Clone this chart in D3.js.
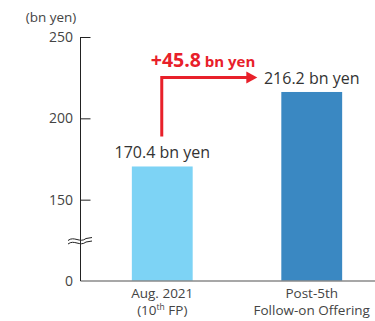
<!DOCTYPE html>
<html><head><meta charset="utf-8">
<script src="https://cdn.jsdelivr.net/npm/d3@7"></script>
<style>html,body{margin:0;padding:0;background:#fff}svg{display:block;font-family:"Open Sans",sans-serif}</style>
</head><body><svg id="c" width="375" height="321"></svg>
<script>
const categories = ["Aug. 2021", "Post-5th"];
const categorySub = [["(10", "th", " FP)"], ["Follow-on Offering", "", ""]];
const values = [170.4, 216.2];
const valueLabels = ["170.4 bn yen", "216.2 bn yen"];
const yTicks = [150, 200, 250];
const increaseLabel = ["+45.8", " bn yen"];
const unitLabel = "(bn yen)";
const barColors = ["#7dd3f5", "#3a88c2"];

const svg = d3.select("#c");
const y = d3.scaleLinear().domain([100, 250]).range([281, 37]);
const x = d3.scaleBand().domain(categories).range([87, 387]).paddingInner(0.593).paddingOuter(0.3);
const axisX = 80.5;

// bars
svg.selectAll("rect.bar").data(values).enter().append("rect")
  .attr("x", (d, i) => x(categories[i]))
  .attr("width", x.bandwidth())
  .attr("y", d => y(d))
  .attr("height", d => y(100) - y(d))
  .attr("fill", (d, i) => barColors[i]);

// baseline
svg.append("line").attr("x1", axisX).attr("x2", 375).attr("y1", y(100)).attr("y2", y(100))
  .attr("stroke", "#8a8a8a").attr("stroke-width", 1.6);

// y axis
const yAxis = d3.axisRight(y).tickValues(yTicks).tickSize(10).tickFormat("");
const ga = svg.append("g").attr("transform", `translate(${axisX},0)`).call(yAxis);
ga.select(".domain").remove();
ga.selectAll(".tick line").attr("stroke", "#222");
svg.append("line").attr("x1", axisX).attr("x2", axisX).attr("y1", y(250)).attr("y2", y(100))
  .attr("stroke", "#222").attr("stroke-width", 1);
svg.selectAll("text.tick").data(yTicks).enter().append("text")
  .attr("x", 73).attr("y", d => y(d) + 5).attr("text-anchor", "end")
  .attr("font-size", 14).attr("fill", "#444").text(d => d);
svg.append("text").attr("x", 73).attr("y", y(100) + 5).attr("text-anchor", "end")
  .attr("font-size", 14).attr("fill", "#444").text("0");
svg.append("text").attr("x", 51).attr("y", 22).attr("text-anchor", "middle")
  .attr("font-size", 13.5).attr("fill", "#444").text(unitLabel);

// break symbol
const by = y(125.5);
[0, 3.5].forEach(off => {
  svg.append("path")
    .attr("d", `M68,${by + off + 1} C74,${by + off - 4} 80,${by + off + 4} 86,${by + off - 1} L92,${by + off - 2}`)
    .attr("fill", "none").attr("stroke", "#222").attr("stroke-width", 1);
});

// value labels
svg.selectAll("text.val").data(values).enter().append("text")
  .attr("x", (d, i) => x(categories[i]) + x.bandwidth() / 2)
  .attr("y", d => y(d) - 8)
  .attr("text-anchor", "middle").attr("font-size", 16).attr("fill", "#333")
  .text((d, i) => valueLabels[i]);

// category labels
categories.forEach((c, i) => {
  const cx = x(c) + x.bandwidth() / 2;
  svg.append("text").attr("x", cx).attr("y", 298).attr("text-anchor", "middle")
    .attr("font-size", 13.5).attr("fill", "#444").text(c);
  const t = svg.append("text").attr("x", cx).attr("y", 315).attr("text-anchor", "middle")
    .attr("font-size", 13.5).attr("fill", "#444");
  t.append("tspan").text(categorySub[i][0]);
  if (categorySub[i][1]) {
    t.append("tspan").attr("font-size", 8.5).attr("dy", -5).text(categorySub[i][1]);
    t.append("tspan").attr("dy", 5).text(categorySub[i][2]);
  }
});

// arrow
const red = "#e8202a";
const ax0 = x(categories[0]) + x.bandwidth() / 2 - 0.5;
const ayTop = 77.5;
const ayBot = y(values[0]) - 30;
const axEnd = x(categories[1]) - 34;
svg.append("path").attr("d", `M${ax0},${ayBot} L${ax0},${ayTop} L${axEnd},${ayTop}`)
  .attr("fill", "none").attr("stroke", red).attr("stroke-width", 3);
svg.append("path").attr("d", `M${axEnd - 1},${ayTop - 6} L${axEnd + 10},${ayTop} L${axEnd - 1},${ayTop + 6} Z`)
  .attr("fill", red);
const at = svg.append("text").attr("x", ax0 - 11).attr("y", 66.5).attr("fill", red).attr("font-weight", "bold");
at.append("tspan").attr("font-size", 19.5).text(increaseLabel[0]);
at.append("tspan").attr("font-size", 15).text(increaseLabel[1]);
</script></body></html>
